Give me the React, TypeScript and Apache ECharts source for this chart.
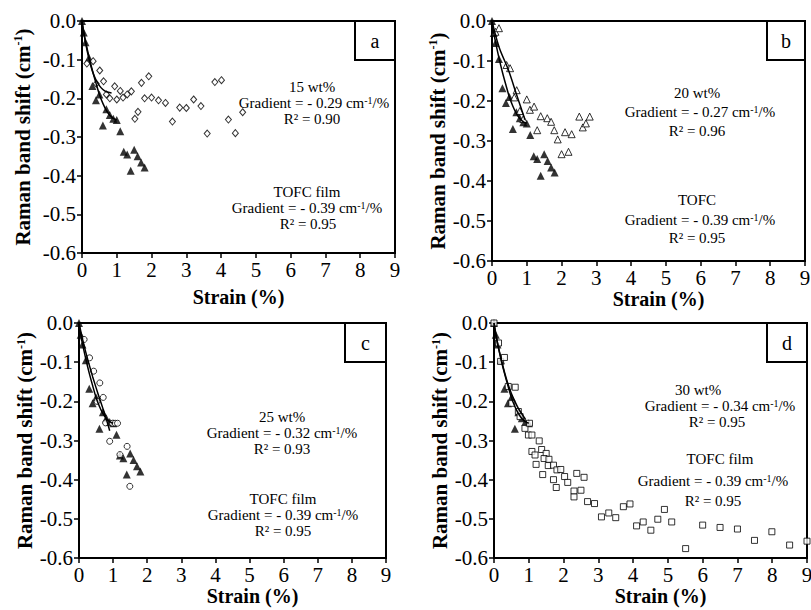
import React, { useEffect, useRef } from 'react';
import * as echarts from 'echarts';

// ---- Data ----
// TOFC film (filled triangles), common to all four panels
const tofcStrain = [0, 0.05, 0.1, 0.2, 0.3, 0.4, 0.5, 0.6, 0.7, 0.8, 0.9, 1.0, 1.1, 1.2, 1.3, 1.4, 1.5, 1.6, 1.7, 1.8];
const tofcShift = [0, -0.03, -0.055, -0.095, -0.168, -0.205, -0.19, -0.27, -0.228, -0.243, -0.253, -0.256, -0.285, -0.338, -0.345, -0.387, -0.333, -0.35, -0.366, -0.379];
// TOFC fitted curve
const tofcFitStrain = [0, 0.05, 0.1, 0.2, 0.3, 0.4, 0.5, 0.6, 0.7, 0.8, 0.9, 1.0];
const tofcFitShift = [0, -0.03, -0.052, -0.092, -0.128, -0.16, -0.19, -0.213, -0.231, -0.244, -0.252, -0.256];

// (a) 15 wt% (open diamonds)
const s15Strain = [0.14, 0.32, 0.41, 0.51, 0.62, 0.7, 0.8, 0.94, 1.0, 1.1, 1.18, 1.3, 1.42, 1.52, 1.61, 1.71, 1.8, 1.92, 2.0, 2.2, 2.4, 2.6, 2.81, 3.0, 3.21, 3.42, 3.6, 3.82, 4.01, 4.21, 4.41, 4.62];
const s15Shift = [-0.11, -0.104, -0.162, -0.128, -0.156, -0.19, -0.2, -0.169, -0.203, -0.181, -0.198, -0.19, -0.182, -0.253, -0.235, -0.16, -0.2, -0.143, -0.198, -0.205, -0.212, -0.26, -0.224, -0.225, -0.203, -0.22, -0.291, -0.158, -0.153, -0.255, -0.29, -0.236];
const s15FitStrain = [0, 0.1, 0.2, 0.3, 0.4, 0.5, 0.6, 0.7, 0.85];
const s15FitShift = [0, -0.055, -0.098, -0.13, -0.152, -0.167, -0.177, -0.183, -0.186];

// (b) 20 wt% (open triangles)
const s20Strain = [0.1, 0.2, 0.42, 0.52, 0.64, 0.71, 0.8, 0.9, 1.0, 1.09, 1.21, 1.3, 1.4, 1.59, 1.7, 1.79, 1.89, 2.0, 2.1, 2.2, 2.29, 2.51, 2.61, 2.7, 2.81];
const s20Shift = [-0.027, -0.018, -0.11, -0.118, -0.191, -0.173, -0.225, -0.245, -0.196, -0.222, -0.214, -0.273, -0.238, -0.243, -0.252, -0.273, -0.296, -0.333, -0.278, -0.327, -0.283, -0.239, -0.266, -0.256, -0.239];
const s20FitStrain = [0, 0.1, 0.23, 0.47, 0.71, 0.95];
const s20FitShift = [0, -0.035, -0.072, -0.122, -0.185, -0.247];

// (c) 25 wt% (open circles)
const s25Strain = [0.15, 0.31, 0.43, 0.53, 0.61, 0.71, 0.78, 0.9, 0.98, 1.06, 1.13, 1.2, 1.41, 1.49];
const s25Shift = [-0.042, -0.089, -0.123, -0.2, -0.153, -0.19, -0.255, -0.302, -0.256, -0.256, -0.256, -0.336, -0.315, -0.417];
const s25FitStrain = [0, 0.1, 0.2, 0.3, 0.4, 0.5, 0.6, 0.7, 0.8, 0.9];
const s25FitShift = [0, -0.04, -0.075, -0.107, -0.137, -0.165, -0.192, -0.218, -0.245, -0.275];

// (d) 30 wt% (open squares)
const s30Strain = [0, 0.13, 0.19, 0.3, 0.41, 0.61, 0.51, 0.7, 0.75, 0.89, 1.02, 0.99, 1.09, 1.3, 1.09, 1.18, 1.37, 1.5, 1.21, 1.44, 1.58, 1.56, 1.71, 1.81, 1.92, 1.4, 2.03, 1.71, 2.12, 1.79, 2.38, 2.59, 2.3, 2.5, 2.3, 2.69, 2.89, 3.09, 3.3, 3.5, 3.72, 3.91, 4.1, 4.29, 4.51, 4.71, 4.9, 5.11, 5.51, 6.0, 6.5, 7.0, 7.49, 7.99, 8.5, 9.0];
const s30Shift = [0, -0.051, -0.098, -0.088, -0.162, -0.164, -0.205, -0.226, -0.239, -0.269, -0.256, -0.286, -0.286, -0.301, -0.328, -0.337, -0.323, -0.333, -0.361, -0.346, -0.348, -0.364, -0.363, -0.375, -0.374, -0.387, -0.392, -0.4, -0.407, -0.42, -0.384, -0.394, -0.429, -0.427, -0.444, -0.456, -0.461, -0.495, -0.485, -0.497, -0.469, -0.462, -0.518, -0.508, -0.529, -0.501, -0.476, -0.508, -0.576, -0.516, -0.522, -0.526, -0.555, -0.533, -0.567, -0.557];
const s30FitStrain = [0, 0.1, 0.2, 0.3, 0.4, 0.5, 0.6, 0.7, 0.8, 0.9];
const s30FitShift = [0, -0.05, -0.09, -0.125, -0.155, -0.18, -0.2, -0.218, -0.232, -0.245];

// Panel texts
const panelLetters = ['a', 'b', 'c', 'd'];
const sampleNames = ['15 wt%', '20 wt%', '25 wt%', '30 wt%'];
const sampleGradients = ['0.29', '0.27', '0.32', '0.34'];
const sampleR2 = ['0.90', '0.96', '0.93', '0.95'];
const tofcNames = ['TOFC film', 'TOFC', 'TOFC film', 'TOFC film'];
const tofcGradient = '0.39';
const tofcR2 = '0.95';

const FONT = '"Liberation Serif", "Times New Roman", serif';

const zip = (xs: number[], ys: number[]) => xs.map((x, i) => [x, ys[i]]);

// layout (pixels)
const grids = [
  { left: 82, top: 21, width: 313, height: 232 },
  { left: 492, top: 21, width: 313, height: 240 },
  { left: 79, top: 323, width: 307, height: 235 },
  { left: 494, top: 323, width: 313, height: 235 },
];
const xNameGap = [34, 26, 25, 25];
const xNameShift = [0, 10, 20, 10];
const yNameGap = [49, 44, 43, 43];
const labelBoxes = [
  { x: 355, y: 21, w: 40, h: 39 },
  { x: 767, y: 21, w: 38, h: 39 },
  { x: 345, y: 323, w: 41, h: 39 },
  { x: 767, y: 323, w: 40, h: 39 },
];
// annotation lines: centre x / y for the sample block and the TOFC block
const annot = [
  { sx: [312, 314, 312], sy: [87, 103, 119], tx: [307, 307, 308], ty: [192, 208, 224] },
  { sx: [697, 700, 697], sy: [93, 112, 131], tx: [697, 700, 697], ty: [200, 220, 238] },
  { sx: [282, 282, 282], sy: [417, 433, 449], tx: [283, 283, 283], ty: [499, 515, 531] },
  { sx: [698, 720, 717], sy: [390, 406, 422], tx: [720, 713, 713], ty: [459, 481, 501] },
];

const sampleSeries = [
  { strain: s15Strain, shift: s15Shift, fx: s15FitStrain, fy: s15FitShift, symbol: 'diamond', size: [6, 7] },
  { strain: s20Strain, shift: s20Shift, fx: s20FitStrain, fy: s20FitShift, symbol: 'triangle', size: 7 },
  { strain: s25Strain, shift: s25Shift, fx: s25FitStrain, fy: s25FitShift, symbol: 'circle', size: 6 },
  { strain: s30Strain, shift: s30Shift, fx: s30FitStrain, fy: s30FitShift, symbol: 'rect', size: 6 },
];

export default function App() {
  const ref = useRef<HTMLDivElement>(null);
  useEffect(() => {
    if (!ref.current) return;
    const chart = echarts.init(ref.current, undefined, { renderer: 'svg' });

    const xAxes = grids.map((_, i) => ({
      gridIndex: i,
      type: 'value',
      min: 0,
      max: 9,
      interval: 1,
      axisLine: { show: true, onZero: false, lineStyle: { color: '#000', width: 2 } },
      axisTick: { show: true, inside: false, length: 5, lineStyle: { color: '#000', width: 1.5 } },
      axisLabel: { color: '#000', fontFamily: FONT, fontSize: 21, margin: 6 },
      splitLine: { show: false },
      name: 'Strain (%)',
      nameLocation: 'middle',
      nameGap: xNameGap[i],
      nameTextStyle: {
        color: '#000', fontFamily: FONT, fontSize: 20, fontWeight: 'bold',
        padding: [0, 0, 0, xNameShift[i] * 2],
      },
    }));

    const yAxes = grids.map((_, i) => ({
      gridIndex: i,
      type: 'value',
      min: -0.6,
      max: 0,
      interval: 0.1,
      axisLine: { show: true, onZero: false, lineStyle: { color: '#000', width: 2 } },
      axisTick: { show: true, inside: false, length: 5, lineStyle: { color: '#000', width: 1.5 } },
      axisLabel: {
        color: '#000', fontFamily: FONT, fontSize: 21, margin: 6,
        formatter: (v: number) => v.toFixed(1),
      },
      splitLine: { show: false },
      name: 'Raman band shift (cm{sup|-1})',
      nameLocation: 'middle',
      nameRotate: 90,
      nameGap: yNameGap[i],
      nameTextStyle: {
        color: '#000', fontFamily: FONT, fontSize: 21, fontWeight: 'bold',
        rich: {
          sup: { color: '#000', fontFamily: FONT, fontSize: 12, fontWeight: 'bold', verticalAlign: 'top', padding: [0, 0, 8, 0] },
        },
      },
    }));

    const series: any[] = [];
    grids.forEach((_, i) => {
      const s = sampleSeries[i];
      const tofcPts = zip(tofcStrain, tofcShift).filter((p) => (i === 3 ? p[0] <= 1.0 : true));
      series.push({
        type: 'scatter', xAxisIndex: i, yAxisIndex: i, data: tofcPts,
        symbol: 'triangle', symbolSize: 8, itemStyle: { color: '#000' }, z: 2,
      });
      series.push({
        type: 'scatter', xAxisIndex: i, yAxisIndex: i, data: zip(s.strain, s.shift),
        symbol: s.symbol, symbolSize: s.size,
        itemStyle: { color: '#fff', borderColor: '#000', borderWidth: 1 }, z: 3,
      });
      series.push({
        type: 'line', xAxisIndex: i, yAxisIndex: i, data: zip(tofcFitStrain, tofcFitShift),
        showSymbol: false, symbol: 'none', smooth: 0.3,
        lineStyle: { color: '#000', width: 1.5 }, z: 4,
      });
      series.push({
        type: 'line', xAxisIndex: i, yAxisIndex: i, data: zip(s.fx, s.fy),
        showSymbol: false, symbol: 'none', smooth: 0.3,
        lineStyle: { color: '#000', width: 1.5 }, z: 4,
      });
    });

    const supRich = { sup: { fill: '#000', fontFamily: FONT, fontSize: 10, verticalAlign: 'top', padding: [0, 0, 6, 0] } };
    const txt = (x: number, y: number, text: string) => ({
      type: 'text', x, y, z: 10,
      style: {
        text, fill: '#000', fontFamily: FONT, fontSize: 15,
        align: 'center', verticalAlign: 'middle', rich: supRich,
      },
    });

    const graphics: any[] = [];
    grids.forEach((_, i) => {
      const b = labelBoxes[i];
      graphics.push({
        type: 'rect', z: 10,
        shape: { x: b.x, y: b.y, width: b.w, height: b.h },
        style: { fill: '#fff', stroke: '#000', lineWidth: 2 },
      });
      graphics.push({
        type: 'text', x: b.x + b.w / 2, y: b.y + b.h / 2, z: 11,
        style: { text: panelLetters[i], fill: '#000', fontFamily: FONT, fontSize: 20, align: 'center', verticalAlign: 'middle' },
      });
      const a = annot[i];
      graphics.push(txt(a.sx[0], a.sy[0], sampleNames[i]));
      graphics.push(txt(a.sx[1], a.sy[1], `Gradient = - ${sampleGradients[i]} cm{sup|-1}/%`));
      graphics.push(txt(a.sx[2], a.sy[2], `R² = ${sampleR2[i]}`));
      graphics.push(txt(a.tx[0], a.ty[0], tofcNames[i]));
      graphics.push(txt(a.tx[1], a.ty[1], `Gradient = - ${tofcGradient} cm{sup|-1}/%`));
      graphics.push(txt(a.tx[2], a.ty[2], `R² = ${tofcR2}`));
    });

    chart.setOption({
      animation: false,
      backgroundColor: '#fff',
      grid: grids.map((g) => ({
        ...g, containLabel: false, outerBoundsMode: 'none',
        show: true, borderColor: '#000', borderWidth: 2, backgroundColor: 'transparent',
      })),
      xAxis: xAxes,
      yAxis: yAxes,
      series,
      graphic: graphics,
    });
    return () => chart.dispose();
  }, []);
  return <div ref={ref} style={{ position: 'absolute', left: 0, top: 0, width: 811, height: 610 }} />;
}
